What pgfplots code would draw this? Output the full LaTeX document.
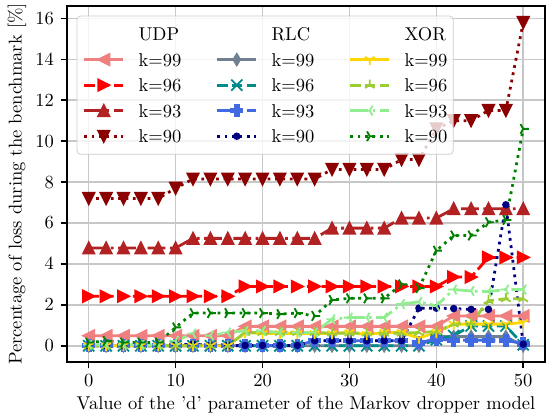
\documentclass[border=0pt]{standalone}
\usepackage{pgfplots}
\usepackage{pgfplotstable}
\pgfplotsset{compat=1.18}

\definecolor{lightcoral}{RGB}{240,128,128}
\definecolor{mplred}{RGB}{255,0,0}
\definecolor{firebrick}{RGB}{178,34,34}
\definecolor{darkred}{RGB}{139,0,0}
\definecolor{slategray}{RGB}{112,128,144}
\definecolor{darkcyan}{RGB}{0,139,139}
\definecolor{royalblue}{RGB}{65,105,225}
\definecolor{navy}{RGB}{0,0,128}
\definecolor{gold}{RGB}{255,215,0}
\definecolor{yellowgreen}{RGB}{154,205,50}
\definecolor{lightgreen}{RGB}{144,238,144}
\definecolor{mplgreen}{RGB}{0,128,0}

% matplotlib-like markers
\pgfdeclareplotmark{mplv}{%
  \pgfpathmoveto{\pgfpoint{0pt}{-\pgfplotmarksize}}%
  \pgfpathlineto{\pgfpoint{-\pgfplotmarksize}{\pgfplotmarksize}}%
  \pgfpathlineto{\pgfpoint{\pgfplotmarksize}{\pgfplotmarksize}}%
  \pgfpathclose\pgfusepathqfillstroke}
\pgfdeclareplotmark{mpl^}{%
  \pgfpathmoveto{\pgfpoint{0pt}{\pgfplotmarksize}}%
  \pgfpathlineto{\pgfpoint{-\pgfplotmarksize}{-\pgfplotmarksize}}%
  \pgfpathlineto{\pgfpoint{\pgfplotmarksize}{-\pgfplotmarksize}}%
  \pgfpathclose\pgfusepathqfillstroke}
\pgfdeclareplotmark{mpl<}{%
  \pgfpathmoveto{\pgfpoint{-\pgfplotmarksize}{0pt}}%
  \pgfpathlineto{\pgfpoint{\pgfplotmarksize}{\pgfplotmarksize}}%
  \pgfpathlineto{\pgfpoint{\pgfplotmarksize}{-\pgfplotmarksize}}%
  \pgfpathclose\pgfusepathqfillstroke}
\pgfdeclareplotmark{mpl>}{%
  \pgfpathmoveto{\pgfpoint{\pgfplotmarksize}{0pt}}%
  \pgfpathlineto{\pgfpoint{-\pgfplotmarksize}{\pgfplotmarksize}}%
  \pgfpathlineto{\pgfpoint{-\pgfplotmarksize}{-\pgfplotmarksize}}%
  \pgfpathclose\pgfusepathqfillstroke}
\pgfdeclareplotmark{mpld}{%
  \pgfpathmoveto{\pgfpoint{0pt}{\pgfplotmarksize}}%
  \pgfpathlineto{\pgfpoint{0.6\pgfplotmarksize}{0pt}}%
  \pgfpathlineto{\pgfpoint{0pt}{-\pgfplotmarksize}}%
  \pgfpathlineto{\pgfpoint{-0.6\pgfplotmarksize}{0pt}}%
  \pgfpathclose\pgfusepathqfillstroke}
\pgfdeclareplotmark{mplx}{%
  \pgfpathmoveto{\pgfpoint{-\pgfplotmarksize}{-\pgfplotmarksize}}%
  \pgfpathlineto{\pgfpoint{\pgfplotmarksize}{\pgfplotmarksize}}%
  \pgfpathmoveto{\pgfpoint{-\pgfplotmarksize}{\pgfplotmarksize}}%
  \pgfpathlineto{\pgfpoint{\pgfplotmarksize}{-\pgfplotmarksize}}%
  \pgfusepathqstroke}
\pgfdeclareplotmark{mplP}{%
  \pgfpathmoveto{\pgfpoint{-0.333\pgfplotmarksize}{\pgfplotmarksize}}%
  \pgfpathlineto{\pgfpoint{0.333\pgfplotmarksize}{\pgfplotmarksize}}%
  \pgfpathlineto{\pgfpoint{0.333\pgfplotmarksize}{0.333\pgfplotmarksize}}%
  \pgfpathlineto{\pgfpoint{\pgfplotmarksize}{0.333\pgfplotmarksize}}%
  \pgfpathlineto{\pgfpoint{\pgfplotmarksize}{-0.333\pgfplotmarksize}}%
  \pgfpathlineto{\pgfpoint{0.333\pgfplotmarksize}{-0.333\pgfplotmarksize}}%
  \pgfpathlineto{\pgfpoint{0.333\pgfplotmarksize}{-\pgfplotmarksize}}%
  \pgfpathlineto{\pgfpoint{-0.333\pgfplotmarksize}{-\pgfplotmarksize}}%
  \pgfpathlineto{\pgfpoint{-0.333\pgfplotmarksize}{-0.333\pgfplotmarksize}}%
  \pgfpathlineto{\pgfpoint{-\pgfplotmarksize}{-0.333\pgfplotmarksize}}%
  \pgfpathlineto{\pgfpoint{-\pgfplotmarksize}{0.333\pgfplotmarksize}}%
  \pgfpathlineto{\pgfpoint{-0.333\pgfplotmarksize}{0.333\pgfplotmarksize}}%
  \pgfpathclose\pgfusepathqfillstroke}
\pgfdeclareplotmark{mpl1}{%
  \pgfpathmoveto{\pgfpointorigin}\pgfpathlineto{\pgfpoint{0pt}{-\pgfplotmarksize}}%
  \pgfpathmoveto{\pgfpointorigin}\pgfpathlineto{\pgfpoint{-0.866\pgfplotmarksize}{0.5\pgfplotmarksize}}%
  \pgfpathmoveto{\pgfpointorigin}\pgfpathlineto{\pgfpoint{0.866\pgfplotmarksize}{0.5\pgfplotmarksize}}%
  \pgfusepathqstroke}
\pgfdeclareplotmark{mpl2}{%
  \pgfpathmoveto{\pgfpointorigin}\pgfpathlineto{\pgfpoint{0pt}{\pgfplotmarksize}}%
  \pgfpathmoveto{\pgfpointorigin}\pgfpathlineto{\pgfpoint{-0.866\pgfplotmarksize}{-0.5\pgfplotmarksize}}%
  \pgfpathmoveto{\pgfpointorigin}\pgfpathlineto{\pgfpoint{0.866\pgfplotmarksize}{-0.5\pgfplotmarksize}}%
  \pgfusepathqstroke}
\pgfdeclareplotmark{mpl3}{%
  \pgfpathmoveto{\pgfpointorigin}\pgfpathlineto{\pgfpoint{-\pgfplotmarksize}{0pt}}%
  \pgfpathmoveto{\pgfpointorigin}\pgfpathlineto{\pgfpoint{0.5\pgfplotmarksize}{0.866\pgfplotmarksize}}%
  \pgfpathmoveto{\pgfpointorigin}\pgfpathlineto{\pgfpoint{0.5\pgfplotmarksize}{-0.866\pgfplotmarksize}}%
  \pgfusepathqstroke}
\pgfdeclareplotmark{mpl4}{%
  \pgfpathmoveto{\pgfpointorigin}\pgfpathlineto{\pgfpoint{\pgfplotmarksize}{0pt}}%
  \pgfpathmoveto{\pgfpointorigin}\pgfpathlineto{\pgfpoint{-0.5\pgfplotmarksize}{0.866\pgfplotmarksize}}%
  \pgfpathmoveto{\pgfpointorigin}\pgfpathlineto{\pgfpoint{-0.5\pgfplotmarksize}{-0.866\pgfplotmarksize}}%
  \pgfusepathqstroke}

\pgfplotsset{
  lsolid/.style={line width=1.5pt},
  ldashed/.style={line width=1.5pt, dash pattern=on 5.55pt off 2.4pt},
  ldashdot/.style={line width=1.5pt, dash pattern=on 9.6pt off 2.4pt on 1.5pt off 2.4pt},
  ldotted/.style={line width=1.5pt, dash pattern=on 1.5pt off 2.475pt},
  mk/.style 2 args={mark=#1, mark size=3pt, mark options={solid, fill=#2, draw=#2, line width=1pt, fill opacity=1}},
  udpA/.style={lsolid, color=lightcoral, mk={mpl<}{lightcoral}},
  udpB/.style={ldashed, color=mplred, mk={mpl>}{mplred}},
  udpC/.style={ldashdot, color=firebrick, mk={mpl^}{firebrick}},
  udpD/.style={ldotted, color=darkred, mk={mplv}{darkred}},
  rlcA/.style={lsolid, color=slategray, mk={mpld}{slategray}},
  rlcB/.style={ldashed, color=darkcyan, mk={mplx}{darkcyan}},
  rlcC/.style={ldashdot, color=royalblue, mk={mplP}{royalblue}},
  rlcD/.style={ldotted, color=navy, mark=*, mark size=1.5pt, mark options={solid, fill=navy, draw=navy, line width=1pt, fill opacity=1}},
  xorA/.style={lsolid, color=gold, mk={mpl1}{gold}},
  xorB/.style={ldashed, color=yellowgreen, mk={mpl2}{yellowgreen}},
  xorC/.style={ldashdot, color=lightgreen, mk={mpl3}{lightgreen}},
  xorD/.style={ldotted, color=mplgreen, mk={mpl4}{mplgreen}},
}

\pgfplotstableread{
x k99 k96 k93 k90
0 0.49 2.42 4.78 7.20
2 0.49 2.42 4.78 7.20
4 0.49 2.42 4.78 7.20
6 0.49 2.42 4.78 7.20
8 0.49 2.42 4.78 7.20
10 0.49 2.42 4.78 7.70
12 0.49 2.42 5.25 8.15
14 0.49 2.42 5.25 8.15
16 0.49 2.42 5.25 8.15
18 0.95 2.90 5.25 8.15
20 0.95 2.90 5.25 8.15
22 0.95 2.90 5.25 8.15
24 0.95 2.90 5.25 8.15
26 0.95 2.90 5.25 8.15
28 0.95 2.90 5.75 8.62
30 0.95 2.90 5.75 8.62
32 0.95 2.90 5.75 8.62
34 0.95 2.90 5.75 8.62
36 0.95 2.90 6.24 9.10
38 0.95 2.90 6.24 9.10
40 0.95 2.90 6.24 10.60
42 1.46 3.36 6.70 11.00
44 1.46 3.36 6.70 11.00
46 1.46 4.32 6.70 11.50
48 1.46 4.32 6.70 11.50
50 1.46 4.32 6.70 15.80
}\udp

\pgfplotstableread{
x k99 k96 k93 k90
0 0 0 0.02 0
2 0 0 0.02 0
4 0 0 0.02 0
6 0 0 0.02 0
8 0 0 0.02 0
10 0 0 0.02 0.05
12 0 0 0.02 0.08
14 0 0 0.02 0.02
16 0 0 0.02 0.02
18 0 0 0.02 0.02
20 0 0 0.02 0.02
22 0 0 0.02 0.02
24 0 0 0.02 0.02
26 0 0 0.25 0.25
28 0 0 0.25 0.25
30 0 0 0.25 0.25
32 0 0 0.25 0.25
34 0 0 0.25 0.25
36 0 0 0.25 0.25
38 0 0 0.15 1.84
40 0.45 0.30 0.33 1.84
42 0.45 0.50 0.27 1.82
44 0.45 0.97 0.27 1.78
46 0.45 0.97 0.27 1.78
48 0.45 0.97 0.27 6.89
50 0 0.05 0.10 0.08
}\rlc

\pgfplotstableread{
x k99 k96 k93 k90
0 0 0 0.05 0.16
2 0 0 0.05 0.24
4 0 0 0.05 0.16
6 0 0 0.05 0.16
8 0 0 0.05 0.16
10 0 0 0.25 0.90
12 0 0 0.60 1.60
14 0 0 0.50 1.60
16 0 0 0.65 1.60
18 0.65 0.65 0.73 1.60
20 0.60 0.65 0.73 1.60
22 0.60 0.65 0.65 1.55
24 0.60 0.65 0.65 1.60
26 0.60 0.65 0.65 1.46
28 0.60 0.62 1.30 2.24
30 0.65 0.62 1.38 2.32
32 0.55 0.62 1.38 2.32
34 0.65 0.62 1.38 2.32
36 0.65 0.62 2.04 3.00
38 0.38 0.65 2.15 2.82
40 0.65 0.70 1.95 4.65
42 1.06 1.06 2.75 5.39
44 1.06 1.10 2.68 5.39
46 1.06 2.20 2.65 6.04
48 1.06 2.30 2.75 6.15
50 1.14 2.30 2.75 10.60
}\xor

\begin{document}
\begin{tikzpicture}
\begin{axis}[
  scale only axis,
  width=258.1pt, height=192.2pt,
  xmin=-2.5, xmax=52.5, ymin=-0.79, ymax=16.6,
  xtick={0,10,...,50}, ytick={0,2,...,16},
  tick pos=left, tick align=outside,
  major tick length=3.5pt,
  every tick/.style={black, line width=0.8pt},
  axis line style={line width=0.8pt},
  grid=major,
  major grid style={color=black!22, line width=0.8pt},
  xlabel={Value of the 'd' parameter of the Markov dropper model},
  ylabel={Percentage of loss during the benchmark [\%]},
  every axis x label/.style={at={(axis description cs:0.5,0)}, anchor=center, yshift=-23.2pt},
  every axis y label/.style={at={(axis description cs:0,0.5)}, rotate=90, anchor=center, yshift=27pt},
  legend columns=3,
  legend cell align=left,
  legend image code/.code={\draw[mark repeat=2,mark phase=2] plot coordinates {(0cm,0cm) (0.37cm,0cm) (0.74cm,0cm)};},
  legend style={at={(0,1)}, anchor=north west, xshift=5.2pt, yshift=-5.2pt,
    fill=white, fill opacity=0.8, text opacity=1, draw=black!20, draw opacity=1,
    rounded corners=2pt, inner xsep=3.2pt, inner ysep=6.2pt, row sep=6.8pt,
    nodes={inner sep=0pt, text height=7pt, text depth=0pt},
    /tikz/every odd column/.style={column sep=7.5pt},
    /tikz/every even column/.style={column sep=18.7pt}},
]
\addplot[udpA, forget plot] table[x=x, y=k99] {\udp};
\addplot[udpB, forget plot] table[x=x, y=k96] {\udp};
\addplot[udpC, forget plot] table[x=x, y=k93] {\udp};
\addplot[udpD, forget plot] table[x=x, y=k90] {\udp};
\addplot[rlcA, forget plot] table[x=x, y=k99] {\rlc};
\addplot[rlcB, forget plot] table[x=x, y=k96] {\rlc};
\addplot[rlcC, forget plot] table[x=x, y=k93] {\rlc};
\addplot[rlcD, forget plot] table[x=x, y=k90] {\rlc};
\addplot[xorA, forget plot] table[x=x, y=k99] {\xor};
\addplot[xorB, forget plot] table[x=x, y=k96] {\xor};
\addplot[xorC, forget plot] table[x=x, y=k93] {\xor};
\addplot[xorD, forget plot] table[x=x, y=k90] {\xor};

% legend, row by row (three columns: UDP, RLC, XOR)
\addlegendimage{empty legend}\addlegendentry{UDP}
\addlegendimage{empty legend}\addlegendentry{RLC}
\addlegendimage{empty legend}\addlegendentry{XOR}
\addlegendimage{udpA}\addlegendentry{k=99}
\addlegendimage{rlcA}\addlegendentry{k=99}
\addlegendimage{xorA}\addlegendentry{k=99}
\addlegendimage{udpB}\addlegendentry{k=96}
\addlegendimage{rlcB}\addlegendentry{k=96}
\addlegendimage{xorB}\addlegendentry{k=96}
\addlegendimage{udpC}\addlegendentry{k=93}
\addlegendimage{rlcC}\addlegendentry{k=93}
\addlegendimage{xorC}\addlegendentry{k=93}
\addlegendimage{udpD}\addlegendentry{k=90}
\addlegendimage{rlcD}\addlegendentry{k=90}
\addlegendimage{xorD}\addlegendentry{k=90}
\end{axis}
\pgfresetboundingbox
\useasboundingbox (-36.18pt,-28.62pt) rectangle (259.2pt,195.48pt);
\end{tikzpicture}
\end{document}
